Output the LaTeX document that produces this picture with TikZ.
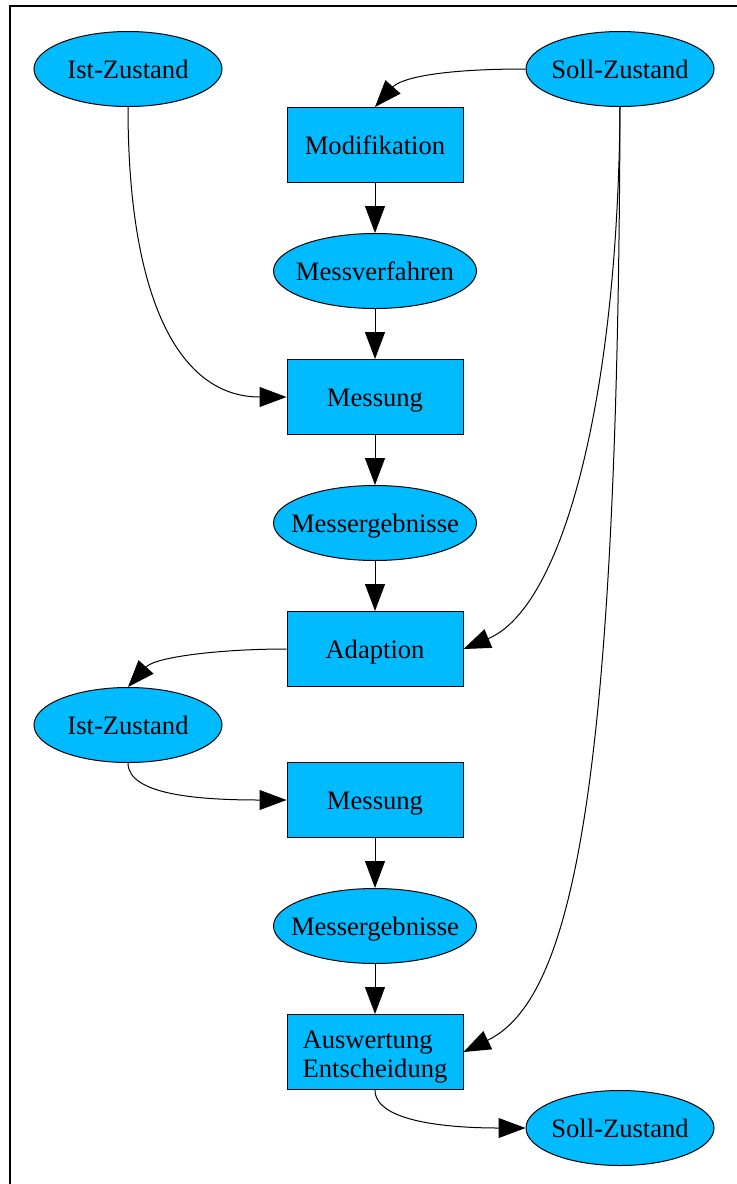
\documentclass[tikz,border=0pt]{standalone}
\usepackage{fontspec}
\setmainfont{Liberation Serif}
\usetikzlibrary{shapes.geometric,arrows.meta}
\definecolor{nodefill}{RGB}{0,187,255}
\begin{document}
\begin{tikzpicture}[x=0.5pt,y=-0.5pt,
  base/.style={draw=black, fill=nodefill, line width=0.5pt, inner sep=0pt,
    font=\fontsize{13.3}{14.5}\selectfont, text height=10.5pt, text depth=1.5pt},
  ell/.style={base, ellipse, inner xsep=-12pt, minimum width=94pt, minimum height=37.5pt},
  wideell/.style={ell, minimum width=101.5pt},
  box/.style={base, rectangle, minimum width=88pt, minimum height=37.5pt},
  edge/.style={draw=black, line width=0.5pt, -{Triangle[length=13.5pt,width=10pt]}}
]
\useasboundingbox (0,0) rectangle (737,1184);
\draw[line width=1pt] (9.5,1184) -- (9.5,6) -- (737,6);

\node[ell] (ist1) at (128,69) {Ist-Zustand};
\node[ell] (soll1) at (620,69) {Soll-Zustand};
\node[box] (modi) at (375,145) {Modifikation};
\node[wideell] (verf) at (375,271) {Messverfahren};
\node[box] (mess1) at (375,397) {Messung};
\node[wideell] (erg1) at (375,523) {Messergebnisse};
\node[box] (adapt) at (375,649) {Adaption};
\node[ell] (ist2) at (128,725) {Ist-Zustand};
\node[box] (mess2) at (375,800) {Messung};
\node[wideell] (erg2) at (375,926) {Messergebnisse};
\node[box, label={[inner sep=0pt, yshift=-2.5pt, align=left, font=\fontsize{13.3}{14.5}\selectfont]center:Auswertung\\Entscheidung}] (ausw) at (375,1052) {};
\node[ell] (soll2) at (620,1128) {Soll-Zustand};

\draw[edge] (soll1.west) .. controls +(-90,0) and +(25,-28) .. (modi.north);
\draw[edge] (modi.south) -- (verf.north);
\draw[edge] (verf.south) -- (mess1.north);
\draw[edge] (ist1.south) .. controls +(0,193) and +(-107,0) .. (mess1.west);
\draw[edge] (mess1.south) -- (erg1.north);
\draw[edge] (erg1.south) -- (adapt.north);
\draw[edge] (soll1.south) .. controls +(-2,290) and +(100,-42) .. (adapt.east);
\draw[edge] (adapt.west) .. controls +(-67,0) and +(27,-30) .. (ist2.north);
\draw[edge] (ist2.south) .. controls +(0,32) and +(-87,0) .. (mess2.west);
\draw[edge] (mess2.south) -- (erg2.north);
\draw[edge] (erg2.south) -- (ausw.north);
\draw[edge] (soll1.south) .. controls +(-2,693) and +(107,-52) .. (ausw.east);
\draw[edge] (ausw.south) .. controls +(0,32) and +(-76,0) .. (soll2.west);
\end{tikzpicture}
\end{document}
